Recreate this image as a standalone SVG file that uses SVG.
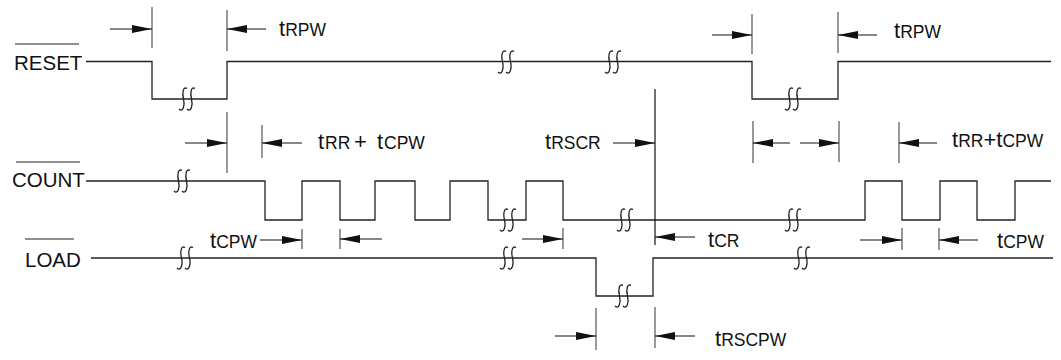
<svg xmlns="http://www.w3.org/2000/svg" xmlns:xlink="http://www.w3.org/1999/xlink" width="1061" height="360" viewBox="0 0 1061 360">
<style>
.sig{fill:none;stroke:#222;stroke-width:1.3}
.brk{fill:none;stroke:#222;stroke-width:1.3}
.ov{stroke:#222;stroke-width:1.2}
.mk{stroke:#555;stroke-width:1.2}
.ar{stroke:#111;stroke-width:1.1;marker-end:url(#ah)}
.lbl{font-family:"Liberation Sans",Arial,sans-serif;font-size:20.5px;fill:#111}
.tm{font-family:"Liberation Sans",Arial,sans-serif;fill:#111}
.tb{font-size:22px}
.ts{font-size:17.5px}
</style>
<defs>
<marker id="ah" markerUnits="userSpaceOnUse" markerWidth="20" markerHeight="8" refX="20" refY="4" orient="auto">
<path d="M0,0 L20,4 L0,8 z" fill="#111"/>
</marker>
<path id="b" class="brk" d="M-8,10 C-4,14 -2,6 -3.5,0 S-4,-13 0,-10.5 M0,10 C4,14 6,6 4.5,0 S4,-13 8,-10.5"/>
</defs>
<rect width="1061" height="360" fill="#fff"/>

<g id="reset">
<text class="lbl" x="14" y="70">RESET</text>
<line class="ov" x1="15" y1="44" x2="79" y2="44"/>
<path class="sig" d="M86,61.5 H152 V99 H227 V61.5 H752 V99 H838 V61.5 H1051"/>
<use xlink:href="#b" x="187" y="99"/>
<use xlink:href="#b" x="506" y="62"/>
<use xlink:href="#b" x="613" y="62"/>
<use xlink:href="#b" x="793" y="99"/>
</g>

<g id="count">
<text class="lbl" x="12" y="187">COUNT</text>
<line class="ov" x1="16" y1="162" x2="80" y2="162"/>
<path class="sig" d="M86,181 H265 V220 H302 V181 H340 V220 H375 V181 H415 V220 H450 V181 H488 V220 H526 V181 H563 V220 H865 V181 H902 V220 H940 V181 H977 V220 H1015 V181 H1051"/>
<use xlink:href="#b" x="182" y="181"/>
<use xlink:href="#b" x="508" y="220"/>
<use xlink:href="#b" x="625" y="220"/>
<use xlink:href="#b" x="793" y="220"/>
</g>

<g id="load">
<text class="lbl" x="25" y="267">LOAD</text>
<line class="ov" x1="25" y1="239" x2="74" y2="239"/>
<path class="sig" d="M91,258 H596 V296 H653 V258 H1053"/>
<use xlink:href="#b" x="185" y="258"/>
<use xlink:href="#b" x="508" y="258"/>
<use xlink:href="#b" x="623" y="296"/>
<use xlink:href="#b" x="802" y="258"/>
</g>

<g id="connectors">
<line class="mk" x1="152" y1="7" x2="152" y2="48"/>
<line class="mk" x1="227" y1="10" x2="227" y2="51"/>
<line class="mk" x1="227" y1="112" x2="227" y2="173"/>
<line class="mk" x1="262" y1="125" x2="262" y2="158"/>
<line x1="655" y1="89" x2="655" y2="245" stroke="#111" stroke-width="1.2"/>
<line class="mk" x1="752" y1="14" x2="752" y2="54"/>
<line class="mk" x1="838" y1="12" x2="838" y2="53"/>
<line class="mk" x1="753" y1="121" x2="753" y2="163"/>
<line class="mk" x1="839" y1="121" x2="839" y2="162"/>
<line class="mk" x1="899" y1="122" x2="899" y2="163"/>
<line class="mk" x1="302" y1="229" x2="302" y2="249"/>
<line class="mk" x1="340" y1="229" x2="340" y2="249"/>
<line class="mk" x1="563" y1="228" x2="563" y2="249"/>
<line class="mk" x1="902" y1="228" x2="902" y2="250"/>
<line class="mk" x1="939" y1="228" x2="939" y2="250"/>
<line class="mk" x1="596" y1="308" x2="596" y2="350"/>
<line class="mk" x1="655" y1="307" x2="655" y2="348"/>

<line class="ar" x1="110" y1="29" x2="152" y2="29"/>
<line class="ar" x1="266" y1="29" x2="227" y2="29"/>
<line class="ar" x1="712" y1="35" x2="752" y2="35"/>
<line class="ar" x1="877" y1="35" x2="838" y2="35"/>
<line class="ar" x1="185" y1="143" x2="227" y2="143"/>
<line class="ar" x1="302" y1="143" x2="262" y2="143"/>
<line class="ar" x1="613" y1="143" x2="655" y2="143"/>
<line class="ar" x1="790" y1="143" x2="753" y2="143"/>
<line class="ar" x1="800" y1="143" x2="839" y2="143"/>
<line class="ar" x1="937" y1="143" x2="899" y2="143"/>
<line class="ar" x1="260" y1="240" x2="302" y2="240"/>
<line class="ar" x1="382" y1="239" x2="340" y2="239"/>
<line class="ar" x1="522" y1="239" x2="563" y2="239"/>
<line class="ar" x1="695" y1="237" x2="655" y2="237"/>
<line class="ar" x1="860" y1="240" x2="902" y2="240"/>
<line class="ar" x1="978" y1="240" x2="939" y2="240"/>
<line class="ar" x1="555" y1="336" x2="596" y2="336"/>
<line class="ar" x1="695" y1="336" x2="655" y2="336"/>
</g>

<g id="labels">
<text class="tm" x="279" y="36"><tspan class="tb">t</tspan><tspan class="ts">RPW</tspan></text>
<text class="tm" x="894" y="38"><tspan class="tb">t</tspan><tspan class="ts">RPW</tspan></text>
<text class="tm" y="149"><tspan class="tb" x="318">t</tspan><tspan class="ts" x="325">RR</tspan><tspan class="tb" x="354">+</tspan><tspan class="tb" x="377">t</tspan><tspan class="ts" x="384">CPW</tspan></text>
<text class="tm" x="545" y="149"><tspan class="tb">t</tspan><tspan class="ts">RSCR</tspan></text>
<text class="tm" x="952" y="147"><tspan class="tb">t</tspan><tspan class="ts">RR</tspan><tspan class="tb">+t</tspan><tspan class="ts">CPW</tspan></text>
<text class="tm" x="210" y="248"><tspan class="tb">t</tspan><tspan class="ts">CPW</tspan></text>
<text class="tm" x="708" y="247"><tspan class="tb">t</tspan><tspan class="ts">CR</tspan></text>
<text class="tm" x="997" y="248"><tspan class="tb">t</tspan><tspan class="ts">CPW</tspan></text>
<text class="tm" x="715" y="346"><tspan class="tb">t</tspan><tspan class="ts">RSCPW</tspan></text>
</g>
</svg>
